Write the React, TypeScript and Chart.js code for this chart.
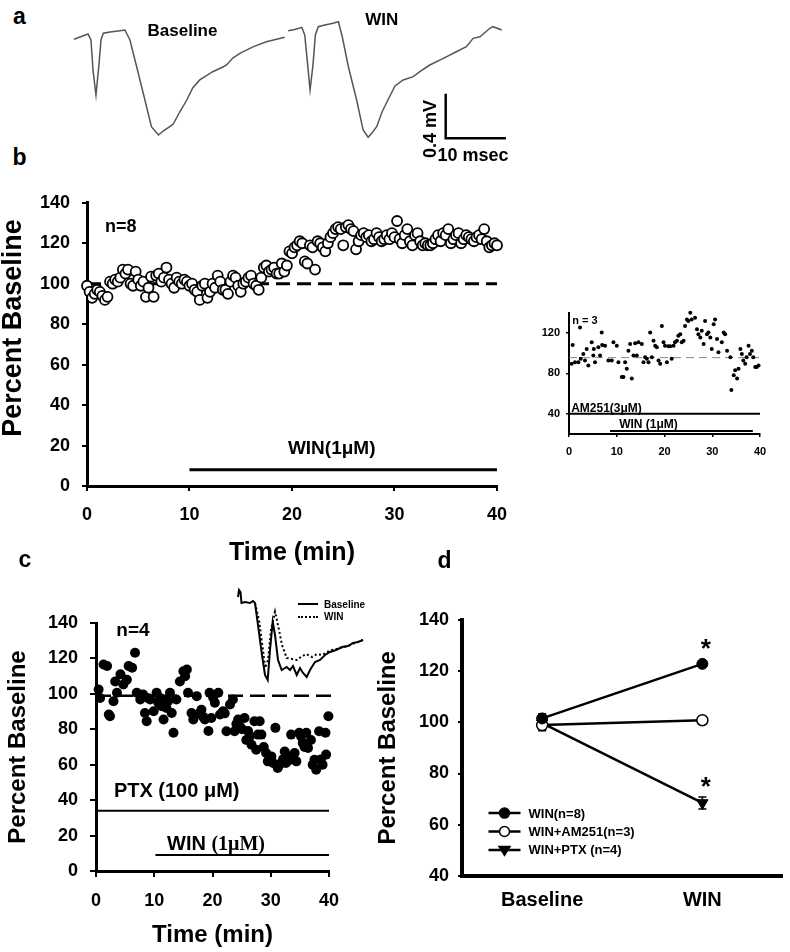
import React, { useEffect, useRef } from 'react';
import { Chart, registerables } from 'chart.js';

Chart.register(...registerables);

const FONT = '"Liberation Sans", Arial, Helvetica, sans-serif';
const SERIF = '"Liberation Serif", "Times New Roman", serif';
Chart.defaults.font.family = FONT;
Chart.defaults.color = '#000';

// ---------- Panel a : field potential traces (ms, mV) ----------
const aBaseT = [2.37, 3.39, 4.75, 5.25, 5.6, 6.1, 6.6, 6.95, 7.34, 8.47, 10.17, 11.0, 11.86, 13.0, 14.4, 15.5, 16.7, 17.5, 18.6, 19.2, 20.3, 21.5, 22.5, 23.7, 24.7, 25.9, 27.7, 28.25, 29.3, 30.5, 32.8, 35.0, 38.1];
const aBaseV = [-0.064, -0.043, -0.015, -0.07, -0.35, -0.58, -0.3, -0.07, -0.008, 0.004, 0.016, 0.022, -0.07, -0.318, -0.626, -0.873, -0.95, -0.913, -0.873, -0.848, -0.737, -0.626, -0.515, -0.44, -0.404, -0.364, -0.318, -0.302, -0.237, -0.194, -0.132, -0.086, -0.045];
const aWinT = [38.7, 39.8, 41.0, 41.5, 42.0, 42.4, 42.9, 43.3, 43.8, 44.9, 46.3, 47.2, 47.8, 48.9, 50.3, 51.4, 52.25, 52.9, 53.7, 54.6, 55.6, 56.8, 58.2, 59.9, 61.2, 62.7, 65.0, 67.2, 68.9, 70.05, 71.2, 72.9, 73.4, 74.9];
const aWinV = [0.016, 0.027, 0.047, -0.024, -0.3, -0.533, -0.3, -0.024, 0.053, 0.069, 0.084, 0.099, -0.024, -0.318, -0.626, -0.904, -0.971, -0.931, -0.873, -0.737, -0.626, -0.496, -0.44, -0.41, -0.357, -0.302, -0.24, -0.179, -0.132, -0.055, -0.04, 0.038, 0.053, 0.022];
const aScaleT = [65.4, 65.4, 75.4];
const aScaleV = [-0.58, -0.98, -0.98];

// ---------- Panel b : WIN time course (every 0.25 min) ----------
const bValues = [
  99, 96, 93, 95, 97, 96, 94, 92, 93.5, 101, 100, 102, 101, 103, 107, 105, 107,
  100, 99, 106, 102, 99, 101, 93.5, 98, 103.5, 93.5, 104, 105, 101, 103, 108, 102,
  100, 98, 103, 101, 100, 102, 101, 99, 100, 97, 96, 92, 99, 100, 93, 96,
  100, 98, 104, 101, 97, 97, 95, 101, 104, 103, 99, 96, 100, 101, 103, 104,
  100, 99, 97, 103,
  108, 109, 106, 107, 108, 105, 105, 110, 106, 109, 116, 115,
  118, 119, 121, 120, 111, 110, 119, 118, 107, 121, 120, 118, 116, 120, 123, 125,
  127, 128, 127, 119, 128, 129, 127, 126, 117, 121, 124, 125, 123, 124, 121, 122,
  125, 123, 121, 122, 124, 122, 125, 123, 131, 122, 120, 124, 127, 121, 119, 124,
  125, 121, 119, 120, 119, 119, 120, 122, 124, 121, 125, 124, 127, 120, 122, 124,
  125, 120, 122, 124, 123, 122, 121, 123, 124, 122, 127, 121, 118, 119, 120, 119,
];
const bStep = 0.25;
const bTimes = bValues.map((_, i) => i * bStep);
const bDashX = [0, 40];
const bDashY = [100, 100];
const bWinBarX = [10, 40];
const bWinBarY = [8, 8];
const bXTicks = [0, 10, 20, 30, 40];
const bYTicks = [0, 20, 40, 60, 80, 100, 120, 140];

// ---------- Panel b inset : WIN + AM251 ----------
const insetT = [0.56, 0.77, 1.26, 1.96, 2.31, 2.45, 3.0, 3.35, 3.7, 4.05, 4.75, 5.1, 5.2, 5.45, 6.15, 6.5, 6.85, 6.95, 7.55, 8.25, 8.95, 9.3, 10.0, 10.35, 11.05, 11.4, 11.75, 12.1, 12.45, 12.8, 13.15, 13.5, 13.85, 14.2, 14.55, 15.25, 15.6, 15.95, 16.3, 16.65, 17.0, 17.35, 17.7, 18.05, 18.4, 18.75, 19.1, 19.45, 19.8, 20.1, 20.5, 20.8, 21.2, 21.5, 21.9, 22.2, 22.6, 22.9, 23.3, 23.6, 24.0, 24.3, 24.7, 25.0, 25.4, 25.7, 26.4, 26.8, 27.1, 27.5, 27.8, 28.2, 28.5, 28.9, 29.2, 29.6, 29.9, 30.3, 30.6, 31.0, 31.3, 32.0, 32.4, 32.7, 33.1, 33.8, 34.0, 34.5, 34.8, 35.2, 35.5, 35.9, 36.2, 36.5, 36.9, 37.2, 37.6, 37.9, 38.3, 38.6, 39.0, 39.3, 39.7];
const insetV = [89.4, 108, 91, 91, 125.2, 94.3, 99.2, 92.7, 104, 87.8, 110.6, 97.6, 104, 91, 105.7, 97.6, 120.3, 108, 107.3, 92.7, 92.7, 110.6, 107.3, 91, 76.4, 76.4, 91, 84.6, 102.4, 108.9, 74.8, 97.6, 109.6, 97.6, 110.6, 108.9, 91, 95.9, 94.3, 91, 120.3, 95.9, 112.2, 107.3, 105.7, 92.7, 89.4, 126.8, 110.6, 107.3, 91, 106.7, 106.7, 94.3, 107.3, 110.6, 112.2, 117.1, 118.7, 110.6, 112.2, 126.8, 133.3, 131.7, 139.8, 133.3, 135, 123.6, 118.7, 115.4, 122, 108.9, 131.7, 118.7, 120.3, 115.4, 104, 128.5, 133.3, 113.8, 100.8, 110.6, 120.3, 118.7, 102.4, 95.9, 63.4, 78, 82.9, 74.8, 84.6, 104, 99.2, 92.7, 89.4, 95.9, 107.3, 99.2, 102.4, 95.9, 86.2, 86.2, 87.8];
const insetDashX = [0, 40];
const insetDashY = [95.5, 95.5];
const insetAmBarX = [0, 40];
const insetAmBarY = [40, 40];
const insetWinBarX = [8.6, 38.5];
const insetWinBarY = [23, 23];
const insetXTicks = [0, 10, 20, 30, 40];
const insetYTicks = [40, 80, 120];

// ---------- Panel c : WIN in PTX ----------
const cT = [0.45, 0.7, 1.3, 1.9, 2.2, 2.4, 3.0, 3.3, 3.6, 4.2, 4.7, 5.3, 5.6, 6.2, 6.7, 7.0, 7.6, 8.1, 8.4, 8.7, 9.0, 9.3, 9.9, 10.4, 10.7, 11.0, 11.3, 11.6, 12.1, 12.4, 12.7, 13.0, 13.3, 13.8, 14.4, 15.0, 15.3, 15.6, 15.8, 16.4, 16.7, 17.0, 17.3, 17.8, 18.1, 18.4, 18.7, 19.3, 19.5, 19.8, 20.1, 20.4, 21.0, 21.3, 21.8, 22.1, 22.4, 23.0, 23.5, 23.8, 24.1, 24.4, 24.7, 25.1, 25.5, 25.8, 26.1, 26.4, 26.7, 27.2, 27.5, 27.8, 28.1, 28.4, 28.8, 29.2, 29.5, 29.8, 30.1, 30.4, 30.8, 31.2, 31.5, 31.8, 32.1, 32.4, 32.6, 32.9, 33.2, 33.5, 33.8, 34.1, 34.4, 34.9, 35.2, 35.5, 35.8, 36.1, 36.4, 36.9, 37.2, 37.5, 37.8, 38.3, 38.6, 38.9, 39.4, 39.5, 39.9];
const cV = [102.5, 97.7, 116.6, 115.7, 88.3, 87.4, 95.8, 107, 100.6, 111, 105.3, 108, 115.7, 114.7, 123.2, 100.6, 96.8, 99.6, 89.2, 84.5, 97.5, 96.8, 90.2, 100.6, 95, 97.7, 93, 85.5, 92, 96, 100.6, 89.2, 78, 96.8, 107, 112.8, 110, 113.8, 100.6, 89.2, 85.5, 88, 98.7, 89.2, 91, 87, 85.5, 79, 100.6, 86.4, 98, 95, 100.6, 88.3, 90.2, 89, 78.9, 94, 96.8, 78.9, 83, 85.5, 81.7, 80, 86.4, 74, 79, 76, 71.3, 84.5, 68.5, 77, 84.5, 77, 70, 66.6, 61.9, 63.5, 64.7, 61, 80.8, 58.1, 60, 61, 63, 67.5, 61, 62, 64.7, 77, 63.5, 66.6, 61.9, 78, 76, 72.3, 70, 78, 69.4, 74, 60, 62.8, 57.2, 78.9, 63, 60, 78, 65.7, 87.4];
const cDashX = [0, 41.2];
const cDashY = [99, 99];
const cPtxBarX = [0, 40];
const cPtxBarY = [34, 34];
const cWinBarX = [10.2, 40];
const cWinBarY = [9, 9];
const cXTicks = [0, 10, 20, 30, 40];
const cYTicks = [0, 20, 40, 60, 80, 100, 120, 140];

// ---------- Panel c inset traces ----------
const ciBaseT = [4, 4.5, 5.25, 5.75, 7.5, 10, 11.5, 12.5, 14, 16, 17.5, 18.85, 20, 21.35, 22.5, 24, 25.85, 28.35, 30, 31.5, 33.35, 35, 36.5, 38.35, 40, 42.5, 45, 47.5, 50, 53, 56, 59, 61.5, 64, 66.5];
const ciBaseV = [0.14, 0.175, 0.165, 0.11, 0.115, 0.11, 0.12, 0.11, 0, -0.15, -0.25, -0.275, -0.125, 0.0165, -0.05, -0.175, -0.225, -0.21, -0.225, -0.205, -0.25, -0.215, -0.24, -0.26, -0.225, -0.185, -0.175, -0.15, -0.135, -0.125, -0.11, -0.105, -0.09, -0.085, -0.075];
const ciWinT = [12.5, 14.5, 16.5, 17.5, 19, 20.5, 22.5, 24, 26, 28.35, 31, 33.5, 35.5, 38, 41, 43.5, 46, 48.5, 51, 55, 59, 62.5, 66.5];
const ciWinV = [0.11, 0.025, -0.125, -0.215, -0.175, -0.025, 0.0665, 0, -0.1, -0.165, -0.17, -0.175, -0.16, -0.145, -0.16, -0.145, -0.15, -0.135, -0.125, -0.115, -0.105, -0.09, -0.075];

// ---------- Panel d : summary ----------
const dCategories = ['Baseline', 'WIN'];
const dWin = [101.5, 122.8];
const dWinErr = [1.8, 1.0];
const dAm = [98.9, 100.8];
const dAmErr = [2.2, 1.5];
const dPtx = [99.7, 68.5];
const dPtxErr = [2.4, 2.3];
const dYTicks = [40, 60, 80, 100, 120, 140];

const xy = (xs: number[], ys: number[]) => xs.map((x, i) => ({ x, y: ys[i] }));

function linAxis(o: any): any {
  return {
    type: 'linear',
    min: o.min,
    max: o.max,
    afterBuildTicks: (s: any) => {
      s.ticks = o.ticks.map((v: number) => ({ value: v }));
    },
    afterFit: (s: any) => {
      if (s.isHorizontal()) s.height = o.size;
      else s.width = o.size;
    },
    border: { display: true, color: '#000', width: o.border },
    grid: {
      display: true,
      drawOnChartArea: false,
      drawTicks: true,
      tickLength: o.tickLen,
      color: '#000',
      lineWidth: o.tickWidth ?? 2,
    },
    ticks: {
      padding: o.pad,
      font: { size: o.font, weight: 'bold', family: FONT },
      color: '#000',
      maxRotation: 0,
      autoSkip: false,
    },
    title: o.title
      ? {
          display: true,
          text: o.title,
          font: { size: o.titleSize, weight: 'bold', family: FONT },
          color: '#000',
          padding: o.titlePad,
        }
      : { display: false },
  };
}

const hidden = (min: number, max: number) => ({ type: 'linear', display: false, min, max });

const lineDs = (xs: number[], ys: number[], width: number, extra: any = {}) => ({
  data: xy(xs, ys),
  showLine: true,
  borderColor: '#000',
  borderWidth: width,
  pointRadius: 0,
  tension: 0,
  fill: false,
  ...extra,
});

const baseOptions = (padding: any) => ({
  animation: false,
  responsive: false,
  maintainAspectRatio: false,
  devicePixelRatio: 1,
  layout: { padding },
  plugins: { legend: { display: false }, tooltip: { enabled: false } },
  events: [],
});

// ---------- configs ----------
const configA = (): any => ({
  type: 'scatter',
  data: {
    datasets: [
      lineDs(aBaseT, aBaseV, 1.5, { borderColor: '#555' }),
      lineDs(aWinT, aWinV, 1.5, { borderColor: '#555' }),
      lineDs(aScaleT, aScaleV, 2.5, { borderCapStyle: 'square' }),
    ],
  },
  options: {
    ...baseOptions(0),
    scales: { x: hidden(0, 78), y: hidden(-1.274, 0.3) },
  },
});

const configB = (): any => ({
  type: 'scatter',
  data: {
    datasets: [
      {
        data: xy(bTimes, bValues),
        showLine: false,
        pointRadius: 5,
        pointBorderWidth: 1.8,
        pointBackgroundColor: '#fff',
        pointBorderColor: '#000',
        clip: false,
        order: 1,
      },
      lineDs(bDashX, bDashY, 3, { borderDash: [14, 7], order: 3 }),
      lineDs(bWinBarX, bWinBarY, 3, { order: 2 }),
    ],
  },
  options: {
    ...baseOptions({ top: 19, right: 18, left: 0, bottom: 0 }),
    scales: {
      x: linAxis({ min: 0, max: 40, ticks: bXTicks, size: 84, border: 3, tickLen: 5, pad: 13, font: 18, title: 'Time (min)', titleSize: 25, titlePad: { top: 0, bottom: 2 } }),
      y: linAxis({ min: 0, max: 140, ticks: bYTicks, size: 87, border: 3, tickLen: 5, pad: 12, font: 18 }),
    },
  },
});

const configInset = (): any => ({
  type: 'scatter',
  data: {
    datasets: [
      {
        data: xy(insetT, insetV),
        showLine: false,
        pointRadius: 2,
        pointBorderWidth: 0,
        pointBackgroundColor: '#000',
        clip: false,
        order: 1,
      },
      lineDs(insetDashX, insetDashY, 1, { borderColor: '#888', borderDash: [8, 5], order: 3 }),
      lineDs(insetAmBarX, insetAmBarY, 2, { order: 2 }),
      lineDs(insetWinBarX, insetWinBarY, 2, { order: 2 }),
    ],
  },
  options: {
    ...baseOptions({ top: 12, right: 20, left: 0, bottom: 0 }),
    scales: {
      x: linAxis({ min: 0, max: 40, ticks: insetXTicks, size: 31, border: 2, tickLen: 3, tickWidth: 1.5, pad: 8, font: 11 }),
      y: linAxis({ min: 20, max: 140, ticks: insetYTicks, size: 39, border: 2, tickLen: 3, tickWidth: 1.5, pad: 6, font: 11 }),
    },
  },
});

const configC = (): any => ({
  type: 'scatter',
  data: {
    datasets: [
      {
        data: xy(cT, cV),
        showLine: false,
        pointRadius: 5,
        pointBorderWidth: 0,
        pointBackgroundColor: '#000',
        clip: false,
        order: 1,
      },
      lineDs(cDashX, cDashY, 2.5, { borderDash: [15, 7], clip: false, order: 3 }),
      lineDs(cPtxBarX, cPtxBarY, 2, { order: 2 }),
      lineDs(cWinBarX, cWinBarY, 2, { order: 2 }),
    ],
  },
  options: {
    ...baseOptions({ top: 23, right: 31, left: 0, bottom: 0 }),
    scales: {
      x: linAxis({ min: 0, max: 40, ticks: cXTicks, size: 79, border: 3, tickLen: 6, pad: 13, font: 18, title: 'Time (min)', titleSize: 24, titlePad: { top: 0, bottom: 0 } }),
      y: linAxis({ min: 0, max: 140, ticks: cYTicks, size: 96, border: 3, tickLen: 6, pad: 12, font: 18, title: 'Percent Baseline', titleSize: 24, titlePad: { top: 3.6, bottom: 0 } }),
    },
  },
});

const configCInset = (): any => ({
  type: 'scatter',
  data: {
    datasets: [
      lineDs(ciBaseT, ciBaseV, 2),
      lineDs(ciWinT, ciWinV, 2, { borderDash: [2, 2.5] }),
    ],
  },
  options: {
    ...baseOptions(0),
    scales: { x: hidden(0, 70), y: hidden(-0.3, 0.2) },
  },
});

function drawMarker(ctx: CanvasRenderingContext2D, kind: string, x: number, y: number, r: number) {
  ctx.save();
  ctx.lineWidth = 1.5;
  ctx.strokeStyle = '#000';
  ctx.beginPath();
  if (kind === 'tri') {
    ctx.moveTo(x - r * 1.1, y - r * 0.7);
    ctx.lineTo(x + r * 1.1, y - r * 0.7);
    ctx.lineTo(x, y + r * 1.1);
    ctx.closePath();
    ctx.fillStyle = '#000';
  } else {
    ctx.arc(x, y, r, 0, Math.PI * 2);
    ctx.fillStyle = kind === 'open' ? '#fff' : '#000';
  }
  ctx.fill();
  ctx.stroke();
  ctx.restore();
}

const errorBarPlugin = {
  id: 'errbars',
  beforeDatasetsDraw(chart: any) {
    const { ctx } = chart;
    const y = chart.scales.y;
    chart.data.datasets.forEach((ds: any, i: number) => {
      if (!ds.errors) return;
      const meta = chart.getDatasetMeta(i);
      meta.data.forEach((pt: any, j: number) => {
        const v = ds.data[j];
        const e = ds.errors[j];
        const yt = y.getPixelForValue(v + e);
        const yb = y.getPixelForValue(v - e);
        ctx.save();
        ctx.strokeStyle = '#000';
        ctx.lineWidth = 1.5;
        ctx.beginPath();
        ctx.moveTo(pt.x, yt);
        ctx.lineTo(pt.x, yb);
        ctx.moveTo(pt.x - 4, yt);
        ctx.lineTo(pt.x + 4, yt);
        ctx.moveTo(pt.x - 4, yb);
        ctx.lineTo(pt.x + 4, yb);
        ctx.stroke();
        ctx.restore();
      });
    });
  },
};

const dLegendPlugin = {
  id: 'dlegend',
  afterDraw(chart: any) {
    const { ctx, chartArea } = chart;
    const x0 = chartArea.left + 26.5;
    const y0 = chartArea.top + 193.3;
    const dy = 18.4;
    chart.data.datasets.forEach((ds: any, i: number) => {
      const y = y0 + i * dy;
      ctx.save();
      ctx.strokeStyle = '#000';
      ctx.lineWidth = 2.5;
      ctx.beginPath();
      ctx.moveTo(x0, y);
      ctx.lineTo(x0 + 32, y);
      ctx.stroke();
      drawMarker(ctx, ds.legendMarker, x0 + 16, y, 5);
      ctx.fillStyle = '#000';
      ctx.font = `bold 13px ${FONT}`;
      ctx.textBaseline = 'middle';
      ctx.textAlign = 'left';
      ctx.fillText(ds.label, x0 + 40, y + 1);
      ctx.restore();
    });
  },
};

const configD = (): any => ({
  type: 'line',
  data: {
    labels: dCategories,
    datasets: [
      {
        label: 'WIN(n=8)',
        data: dWin,
        errors: dWinErr,
        legendMarker: 'filled',
        borderColor: '#000',
        borderWidth: 2.5,
        pointRadius: 5.5,
        pointBackgroundColor: '#000',
        pointBorderColor: '#000',
        pointBorderWidth: 1,
        tension: 0,
      },
      {
        label: 'WIN+AM251(n=3)',
        data: dAm,
        errors: dAmErr,
        legendMarker: 'open',
        borderColor: '#000',
        borderWidth: 2.5,
        pointRadius: 5.5,
        pointBackgroundColor: '#fff',
        pointBorderColor: '#000',
        pointBorderWidth: 1.5,
        tension: 0,
      },
      {
        label: 'WIN+PTX (n=4)',
        data: dPtx,
        errors: dPtxErr,
        legendMarker: 'tri',
        borderColor: '#000',
        borderWidth: 2.5,
        pointStyle: 'triangle',
        rotation: 180,
        pointRotation: 180,
        pointRadius: 6.5,
        pointBackgroundColor: '#000',
        pointBorderColor: '#000',
        pointBorderWidth: 1,
        tension: 0,
      },
    ],
  },
  options: {
    ...baseOptions({ top: 15, right: 2, left: 0, bottom: 0 }),
    scales: {
      x: {
        type: 'category',
        offset: true,
        afterFit: (s: any) => {
          s.height = 44;
        },
        border: { display: true, color: '#000', width: 4 },
        grid: { display: false, drawTicks: false },
        ticks: { padding: 12, font: { size: 20, weight: 'bold', family: FONT }, color: '#000', maxRotation: 0 },
      },
      y: linAxis({ min: 40, max: 140, ticks: dYTicks, size: 102, border: 4, tickLen: 4, pad: 9, font: 18, title: 'Percent Baseline', titleSize: 24, titlePad: { top: 13.6, bottom: 0 } }),
    },
  },
  plugins: [errorBarPlugin, dLegendPlugin],
});

function ChartBox({ left, top, width, height, config }: any) {
  const ref = useRef<HTMLCanvasElement>(null);
  useEffect(() => {
    const chart = new Chart(ref.current as HTMLCanvasElement, config());
    return () => chart.destroy();
  }, []);
  return (
    <canvas
      ref={ref}
      width={width}
      height={height}
      style={{ position: 'absolute', left, top, width, height }}
    />
  );
}

function Label({ x, y, size, children, rotate = 0, anchor = 'center', family = FONT }: any) {
  const tx = anchor === 'left' ? '0' : '-50%';
  return (
    <div
      style={{
        position: 'absolute',
        left: x,
        top: y,
        transform: `translate(${tx}, -50%) rotate(${rotate}deg)`,
        font: `bold ${size}px ${family}`,
        lineHeight: 1,
        whiteSpace: 'nowrap',
        color: '#000',
      }}
    >
      {children}
    </div>
  );
}

export default function App() {
  return (
    <div style={{ position: 'absolute', left: 0, top: 0, width: 790, height: 952, background: '#fff', overflow: 'hidden' }}>
      <ChartBox left={60} top={0} width={460} height={170} config={configA} />
      <ChartBox left={0} top={180} width={520} height={390} config={configB} />
      <ChartBox left={530} top={300} width={250} height={165} config={configInset} />
      <ChartBox left={0} top={600} width={360} height={350} config={configC} />
      <ChartBox left={230} top={585} width={140} height={100} config={configCInset} />
      <ChartBox left={360} top={600} width={430} height={320} config={configD} />

      {/* panel a */}
      <Label x={19.5} y={16} size={23}>a</Label>
      <Label x={182.5} y={30} size={17}>Baseline</Label>
      <Label x={381.7} y={18.7} size={17}>WIN</Label>
      <Label x={430} y={128.5} size={18} rotate={-90}>0.4 mV</Label>
      <Label x={473} y={154.5} size={18}>10 msec</Label>

      {/* panel b */}
      <Label x={19.5} y={157} size={23}>b</Label>
      <Label x={12} y={328} size={27} rotate={-90}>Percent Baseline</Label>
      <Label x={120.7} y={225.5} size={18}>n=8</Label>
      <Label x={331.7} y={446.5} size={19}>WIN(1μM)</Label>
      <Label x={585} y={320} size={11}>n = 3</Label>
      <Label x={606.5} y={407.5} size={12}>AM251(3μM)</Label>
      <Label x={648.5} y={424} size={12}>WIN (1μM)</Label>

      {/* panel c */}
      <Label x={25} y={559} size={23}>c</Label>
      <Label x={133} y={629} size={19}>n=4</Label>
      <Label x={176.7} y={790} size={20}>PTX (100 μM)</Label>
      <Label x={216} y={843} size={20}>
        WIN <span style={{ fontFamily: SERIF }}>(1μM)</span>
      </Label>
      <div style={{ position: 'absolute', left: 298, top: 603, width: 20, borderTop: '2px solid #000' }} />
      <div style={{ position: 'absolute', left: 298, top: 615.7, width: 20, borderTop: '2px dotted #000' }} />
      <Label x={324} y={604.5} size={10} anchor="left">Baseline</Label>
      <Label x={324} y={617} size={10} anchor="left">WIN</Label>

      {/* panel d */}
      <Label x={444.5} y={560} size={23}>d</Label>
      <Label x={705.7} y={647.7} size={26}>*</Label>
      <Label x={705.7} y={786} size={26}>*</Label>
    </div>
  );
}
